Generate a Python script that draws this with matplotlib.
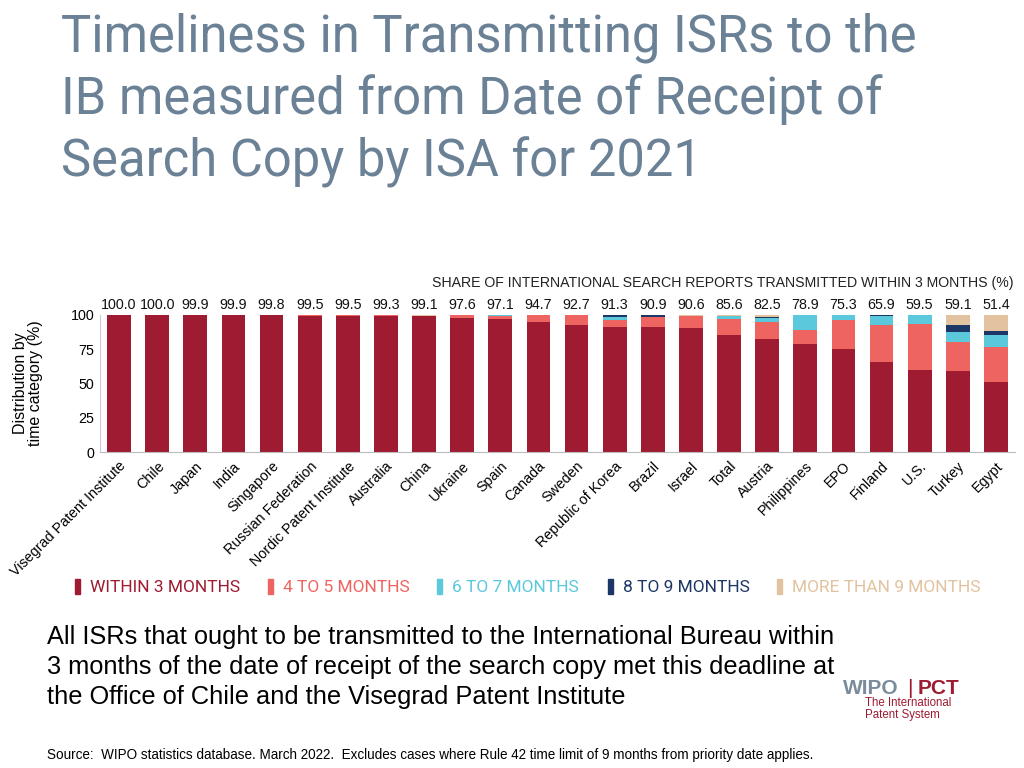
import numpy as np
import matplotlib.pyplot as plt
from matplotlib.patches import Rectangle

plt.rcParams['font.family'] = ['Liberation Sans', 'DejaVu Sans']

# ---------------------------------------------------------------------------
# Data (% of ISRs by time category)
# ---------------------------------------------------------------------------
offices = ['Visegrad Patent Institute', 'Chile', 'Japan', 'India', 'Singapore',
           'Russian Federation', 'Nordic Patent Institute', 'Australia', 'China',
           'Ukraine', 'Spain', 'Canada', 'Sweden', 'Republic of Korea', 'Brazil',
           'Israel', 'Total', 'Austria', 'Philippines', 'EPO', 'Finland', 'U.S.',
           'Turkey', 'Egypt']
within_3 = [100.0, 100.0, 99.9, 99.9, 99.8, 99.5, 99.5, 99.3, 99.1, 97.6, 97.1,
            94.7, 92.7, 91.3, 90.9, 90.6, 85.6, 82.5, 78.9, 75.3, 65.9, 59.5,
            59.1, 51.4]
m4_5 = [0.0, 0.0, 0.0, 0.1, 0.2, 0.2, 0.5, 0.7, 0.4, 2.4, 1.9, 5.0, 7.3, 5.2,
        7.4, 8.6, 11.5, 12.6, 10.1, 21.0, 26.8, 33.9, 21.4, 25.4]
m6_7 = [0.0, 0.0, 0.0, 0.0, 0.0, 0.0, 0.0, 0.0, 0.0, 0.0, 1.0, 0.3, 0.0, 2.3,
        0.5, 0.0, 2.2, 2.5, 11.0, 3.7, 6.6, 6.6, 7.3, 8.6]
m8_9 = [0.0, 0.0, 0.0, 0.0, 0.0, 0.3, 0.0, 0.0, 0.0, 0.0, 0.0, 0.0, 0.0, 1.2,
        1.2, 0.0, 0.3, 1.0, 0.0, 0.0, 0.7, 0.0, 4.6, 3.1]
over_9 = [0.0, 0.0, 0.1, 0.0, 0.0, 0.0, 0.0, 0.0, 0.5, 0.0, 0.0, 0.0, 0.0, 0.0,
          0.0, 0.8, 0.4, 1.4, 0.0, 0.0, 0.0, 0.0, 7.6, 11.5]

series = [within_3, m4_5, m6_7, m8_9, over_9]
labels = ['WITHIN 3 MONTHS', '4 TO 5 MONTHS', '6 TO 7 MONTHS', '8 TO 9 MONTHS',
          'MORE THAN 9 MONTHS']
colors = ['#9E1B32', '#EE6461', '#5BC8DC', '#1C3765', '#E2C29F']

TITLE_COL = '#6B8196'

fig = plt.figure(figsize=(10.24, 7.68), dpi=100)

fig.text(0.06, 0.984, 'Timeliness in Transmitting ISRs to the\n'
         'IB measured from Date of Receipt of\nSearch Copy by ISA for 2021',
         fontsize=36.5, color=TITLE_COL, family=['Roboto', 'DejaVu Sans'],
         va='top', ha='left', linespacing=1.29)

ax = fig.add_axes([100/1024, 1 - 452/768, 915/1024, 137/768])
x = np.arange(len(offices))
bottom = np.zeros(len(offices))
for vals, col in zip(series, colors):
    ax.bar(x, vals, 0.62, bottom=bottom, color=col, linewidth=0)
    bottom += np.array(vals)

for xi, v in zip(x, within_3):
    ax.text(xi, 102.5, f'{v:.1f}', ha='center', va='bottom', fontsize=10.3,
            color='#111111')

ax.set_xlim(-0.5, len(offices) - 0.5)
ax.set_ylim(0, 100)
ax.set_yticks([0, 25, 50, 75, 100])
ax.set_xticks(x)
ax.set_xticklabels(offices, rotation=45, ha='right', rotation_mode='anchor',
                   fontsize=10.3)
ax.tick_params(length=0, labelsize=10.3, pad=4)
ax.tick_params(axis='x', pad=5)
for s in ['top', 'right']:
    ax.spines[s].set_visible(False)
ax.spines['left'].set_color('#CCCCCC')
ax.spines['bottom'].set_color('#BBBBBB')
ax.set_ylabel('Distribution by\ntime category (%)', fontsize=11.5,
              labelpad=20, linespacing=1.0)

fig.text(1014/1024, 1 - 283/768,
         'SHARE OF INTERNATIONAL SEARCH REPORTS TRANSMITTED WITHIN 3 MONTHS (%)',
         ha='right', va='center', fontsize=10.2, color='#222222')

# legend
leg_x = [75, 268, 437, 608, 777]
for lx, lab, col in zip(leg_x, labels, colors):
    fig.patches.append(Rectangle((lx/1024, 1 - 594/768), 5/1024, 15/768,
                                 transform=fig.transFigure, color=col))
    fig.text((lx + 15)/1024, 1 - 587/768, lab, fontsize=12.5, color=col,
             va='center', ha='left', family=['Roboto', 'DejaVu Sans'])

fig.text(47/1024, 1 - 667/768,
         'All ISRs that ought to be transmitted to the International Bureau within\n'
         '3 months of the date of receipt of the search copy met this deadline at\n'
         'the Office of Chile and the Visegrad Patent Institute',
         fontsize=18.3, va='center', ha='left', linespacing=1.32)

fig.text(47/1024, 1 - 755/768,
         'Source:  WIPO statistics database. March 2022.  Excludes cases where '
         'Rule 42 time limit of 9 months from priority date applies.',
         fontsize=9.75, va='center', ha='left')

# WIPO | PCT logo
fig.text(843/1024, 1 - 688/768, 'WIPO', fontsize=15, fontweight='bold',
         color='#7A8C9C', va='center', ha='left')
fig.text(907/1024, 1 - 688/768, '|', fontsize=15, color='#9E1B32',
         va='center', ha='left')
fig.text(918/1024, 1 - 688/768, 'PCT', fontsize=15, fontweight='bold',
         color='#9E1B32', va='center', ha='left')
fig.text(865/1024, 1 - 709/768, 'The International\nPatent System',
         fontsize=8.3, color='#9E1B32', va='center', ha='left', linespacing=1.1)

fig.savefig('out.png', dpi=100)
